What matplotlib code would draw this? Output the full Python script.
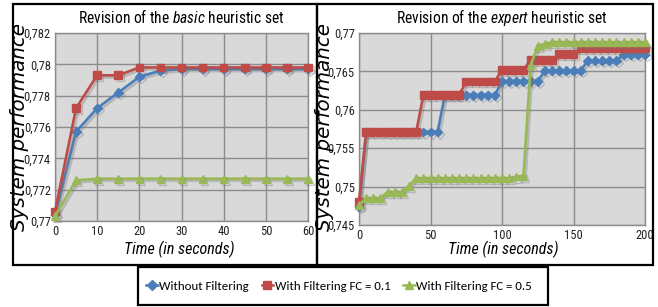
import matplotlib
matplotlib.use('Agg')
import matplotlib.pyplot as plt
from matplotlib import font_manager
from matplotlib.ticker import FuncFormatter, MultipleLocator
from matplotlib.patches import Rectangle
from matplotlib.lines import Line2D
import matplotlib.patheffects as pe

# ---------------- data ----------------
t_basic = [0, 5, 10, 15, 20, 25, 30, 35, 40, 45, 50, 55, 60]
basic_without = [0.7704, 0.7757, 0.7772, 0.7782, 0.7792, 0.7796, 0.7797,
                 0.7797, 0.7797, 0.7797, 0.7797, 0.7797, 0.7797]
basic_fc01 = [0.7706, 0.7772, 0.7793, 0.7793, 0.7798, 0.7798, 0.7798,
              0.7798, 0.7798, 0.7798, 0.7798, 0.7798, 0.7798]
basic_fc05 = [0.7703, 0.7726, 0.7727, 0.7727, 0.7727, 0.7727, 0.7727,
              0.7727, 0.7727, 0.7727, 0.7727, 0.7727, 0.7727]

t_expert = [0, 5, 10, 15, 20, 25, 30, 35, 40, 45, 50, 55, 60, 65, 70, 75, 80,
            85, 90, 95, 100, 105, 110, 115, 120, 125, 130, 135, 140, 145, 150,
            155, 160, 165, 170, 175, 180, 185, 190, 195, 200]
expert_without = [0.7474,
                  0.7571, 0.7571, 0.7571, 0.7571, 0.7571, 0.7571, 0.7571, 0.7571,
                  0.7571, 0.7571, 0.7571,
                  0.7619, 0.7619, 0.7619, 0.7619, 0.7619, 0.7619, 0.7619, 0.7619,
                  0.7637, 0.7637, 0.7637, 0.7637, 0.7637, 0.7637,
                  0.7651, 0.7651, 0.7651, 0.7651, 0.7651, 0.7651,
                  0.7664, 0.7664, 0.7664, 0.7664, 0.7664,
                  0.7672, 0.7672, 0.7672, 0.7672]
expert_fc01 = [0.7480,
               0.7571, 0.7571, 0.7571, 0.7571, 0.7571, 0.7571, 0.7571, 0.7571,
               0.7619, 0.7619, 0.7619, 0.7619, 0.7619, 0.7619,
               0.7637, 0.7637, 0.7637, 0.7637, 0.7637,
               0.7652, 0.7652, 0.7652, 0.7652,
               0.7665, 0.7665, 0.7665, 0.7665,
               0.7673, 0.7673, 0.7673,
               0.7680, 0.7680, 0.7680, 0.7680, 0.7680, 0.7680, 0.7680, 0.7680,
               0.7680, 0.7680]
expert_fc05 = [0.7476,
               0.7485, 0.7485, 0.7485,
               0.7493, 0.7493, 0.7493,
               0.7501,
               0.7511, 0.7511, 0.7511, 0.7511, 0.7511, 0.7511, 0.7511, 0.7511,
               0.7511, 0.7511, 0.7511, 0.7511, 0.7511, 0.7511, 0.7513, 0.7514,
               0.7658, 0.7683, 0.7686,
               0.7688, 0.7688, 0.7688, 0.7688, 0.7688, 0.7688, 0.7688, 0.7688,
               0.7688, 0.7688, 0.7688, 0.7688, 0.7688, 0.7688]

series_labels = ['Without Filtering', 'With Filtering FC = 0.1', 'With Filtering FC = 0.5']
titles = [('Revision of the ', 'basic', ' heuristic set'),
          ('Revision of the ', 'expert', ' heuristic set')]
xlabel = 'Time (in seconds)'
ylabel = 'System performance'

# ---------------- fonts ----------------
available = {f.name for f in font_manager.fontManager.ttflist}


def pick(cands):
    for c in cands:
        if c in available:
            return c
    return 'DejaVu Sans'


NARROW_NAME = pick(['Liberation Sans Narrow', 'Arial Narrow', 'Roboto Condensed',
                    'Archivo Narrow', 'PT Sans Narrow', 'Asap Condensed'])
LEG_NAME = pick(['Carlito', 'Calibri', 'Source Sans 3', 'Source Sans Pro', 'PT Sans', 'Lato'])
NARROW = [NARROW_NAME, 'DejaVu Sans']

plt.rcParams['font.family'] = NARROW
plt.rcParams['mathtext.fontset'] = 'custom'
plt.rcParams['mathtext.rm'] = NARROW_NAME
plt.rcParams['mathtext.it'] = NARROW_NAME + ':italic'

colors = ['#4a7ebb', '#be4b48', '#98b954']
markers = ['D', 's', '^']
msizes = [4.5, 5.5, 5.5]

W, H = 658, 307
fig = plt.figure(figsize=(W / 100, H / 100), dpi=100)
fig.patch.set_facecolor('white')


def fx(px):
    return px / W


def fy(py):
    return 1 - py / H


def fmt(v, pos):
    s = f"{v:.3f}".rstrip('0').rstrip('.')
    return s.replace('.', ',')


ax1 = fig.add_axes([fx(55), fy(221), fx(308) - fx(55), fy(33) - fy(221)])
ax2 = fig.add_axes([fx(359), fy(225), fx(645) - fx(359), fy(33) - fy(225)])

shadow = [pe.SimpleLineShadow(offset=(1.5, -1.5), shadow_color='#777777', alpha=0.35),
          pe.Normal()]

panels = [
    (ax1, t_basic, [basic_without, basic_fc01, basic_fc05], (0, 60), 10,
     (0.77, 0.782), 0.002, titles[0]),
    (ax2, t_expert, [expert_without, expert_fc01, expert_fc05], (0, 200), 50,
     (0.745, 0.77), 0.005, titles[1]),
]

for ax, t, ys, xl, xs, yl, ystep, ttl in panels:
    ax.set_facecolor('#d9d9d9')
    for i, y in enumerate(ys):
        ax.plot(t, y, color=colors[i], marker=markers[i], ms=msizes[i], lw=1.9,
                mec=colors[i], mfc=colors[i], zorder=3 + i, clip_on=False,
                path_effects=shadow)
    ax.set_xlim(*xl)
    ax.set_ylim(*yl)
    ax.xaxis.set_major_locator(MultipleLocator(xs))
    ax.yaxis.set_major_locator(MultipleLocator(ystep))
    ax.yaxis.set_major_formatter(FuncFormatter(fmt))
    ax.grid(True, color='#8c8c8c', lw=1.0, zorder=1)
    ax.set_axisbelow(True)
    for sp in ax.spines.values():
        sp.set_color('#8c8c8c')
        sp.set_linewidth(1.0)
    ax.tick_params(length=0, labelsize=9, pad=3, colors='#222222')
    ax.set_title(ttl[0] + r'$\mathit{' + ttl[1] + '}$' + ttl[2],
                 fontsize=11.2, pad=7, color='black')

# axis labels
fig.text(fx(179), fy(249), xlabel, ha='center', va='center', fontsize=11.5,
         style='italic', family=NARROW)
fig.text(fx(503), fy(249), xlabel, ha='center', va='center', fontsize=11.5,
         style='italic', family=NARROW)
fig.text(fx(20), fy(127), ylabel, ha='center', va='center', fontsize=14.3,
         style='italic', rotation=90, family=['DejaVu Sans'])
fig.text(fx(325), fy(127), ylabel, ha='center', va='center', fontsize=14.3,
         style='italic', rotation=90, family=['DejaVu Sans'], zorder=0)

# outer frames
for (x0, y0, x1, y1) in [(13, 4, 317, 265), (317, 4, 653, 265), (138, 267, 548, 305)]:
    fig.patches.append(Rectangle((fx(x0), fy(y1)), fx(x1) - fx(x0), fy(y0) - fy(y1),
                                 transform=fig.transFigure, fill=False,
                                 ec='black', lw=1.6, zorder=10))

# legend
handles = [Line2D([0], [0], color=colors[i], marker=markers[i], ms=msizes[i] + 0.5,
                  lw=1.8) for i in range(3)]
fig.legend(handles, series_labels, loc='center', bbox_to_anchor=(fx(339), fy(286)),
           ncol=3, frameon=False, handlelength=0.9, handletextpad=0.1,
           columnspacing=1.0, prop={'family': [LEG_NAME, 'DejaVu Sans'], 'size': 9.3})

fig.savefig('out.png', dpi=100)
